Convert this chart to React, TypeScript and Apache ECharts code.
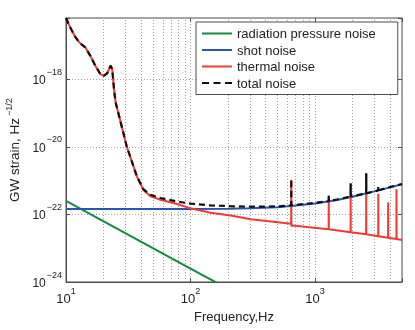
import React, { useEffect, useRef } from "react";
import * as echarts from "echarts";

// Strain values are stored in real units (1/sqrt(Hz)); the log axis plots them in units of Y_UNIT.
const Y_UNIT = 1e-24;
const X_MIN = 10;
const X_MAX = 5000;
const Y_MIN = 1e-24;
const Y_MAX = 6.46e-17;

const seriesNames = ["radiation pressure noise", "shot noise", "thermal noise", "total noise"];

const radiationPressureNoise: [number, number][] = [
  [10, 2.5e-22],
  [100, 2.5e-24],
  [200, 6.3e-25],
];

const shotNoise: [number, number][] = [
  [10, 1.45e-22], [100, 1.45e-22], [200, 1.48e-22], [300, 1.51e-22], [500, 1.62e-22],
  [700, 1.82e-22], [1000, 2.09e-22], [1500, 2.67e-22], [2000, 3.31e-22], [2500, 4.07e-22],
  [3000, 4.79e-22], [4000, 6.31e-22], [5000, 7.76e-22],
];

const thermalNoise: [number, number][] = [
  [10, 6.46e-17], [10.8, 3.43e-17], [11.9, 1.74e-17], [13.0, 1.15e-17], [14.3, 8.7e-18],
  [15.7, 4.9e-18], [17.2, 2.5e-18], [18.9, 1.41e-18], [20.1, 1.26e-18], [21.4, 1.48e-18],
  [22.8, 2.5e-18], [23.5, 2.0e-18], [24.3, 5.1e-19], [25.0, 2.1e-19], [27.2, 6.2e-20],
  [30.8, 1.0e-20], [32.8, 5.1e-21], [37.2, 1.29e-21], [42.0, 5.2e-22], [47.5, 3.5e-22],
  [57.3, 2.7e-22], [78, 2.04e-22], [100, 1.51e-22], [145, 1.12e-22], [210, 9.3e-23],
  [305, 7.2e-23],
  [644, 5.25e-23], [645, 1.05e-21], [647, 4.5e-23], [660, 4.68e-23],
  [1288, 3.63e-23], [1290, 3.09e-22], [1292, 3.63e-23],
  [1932, 2.95e-23], [1935, 7.6e-22], [1938, 2.95e-23],
  [2576, 2.57e-23], [2580, 1.62e-21], [2584, 2.57e-23],
  [3220, 2.24e-23], [3225, 3.98e-22], [3230, 2.24e-23],
  [3865, 2.04e-23], [3870, 2.24e-22], [3875, 2.04e-23],
  [4510, 1.86e-23], [4515, 5.5e-22], [4520, 1.86e-23],
  [5000, 1.74e-23],
];

const totalNoise: [number, number][] = [
  [10, 6.46e-17], [10.8, 3.43e-17], [11.9, 1.74e-17], [13.0, 1.15e-17], [14.3, 8.7e-18],
  [15.7, 4.9e-18], [17.2, 2.5e-18], [18.9, 1.41e-18], [20.1, 1.26e-18], [21.4, 1.48e-18],
  [22.8, 2.5e-18], [23.5, 2.0e-18], [24.3, 5.1e-19], [25.0, 2.1e-19], [27.2, 6.2e-20],
  [30.8, 1.0e-20], [32.8, 5.1e-21], [37.2, 1.29e-21], [42.0, 5.5e-22], [47.5, 3.8e-22],
  [57.3, 3.05e-22], [78, 2.4e-22], [100, 2.09e-22], [145, 1.84e-22], [210, 1.75e-22],
  [305, 1.69e-22], [500, 1.72e-22],
  [644, 1.86e-22], [645, 1.1e-21], [646, 1.86e-22],
  [1000, 2.19e-22],
  [1288, 2.45e-22], [1290, 3.89e-22], [1292, 2.45e-22],
  [1500, 2.75e-22],
  [1932, 3.39e-22], [1935, 8.3e-22], [1938, 3.39e-22],
  [2000, 3.47e-22],
  [2576, 4.17e-22], [2580, 1.66e-21], [2584, 4.17e-22],
  [3000, 4.8e-22],
  [3220, 5.13e-22], [3225, 6.5e-22], [3230, 5.13e-22],
  [4000, 6.46e-22],
  [5000, 7.94e-22],
];

const xMinorGrid = [20, 30, 40, 50, 60, 70, 80, 90, 200, 300, 400, 500, 600, 700, 800, 900, 2000, 3000, 4000];

const FONT = "'Liberation Sans', Arial, sans-serif";
const GREEN = "#14893f";
const BLUE = "#2a56ad";
const RED = "#f23a35";
const BLACK = "#111111";
const FRAME = "#4d4d4d";
const GRID = "#a0a0a0";

const SOLID_ICON = "path://M0,0h30v2h-30z";
const DASH_ICON = "path://M0,0h7v2h-7zM11.5,0h7v2h-7zM23,0h7v2h-7z";

const toPlot = (arr: [number, number][]) => arr.map(([f, h]) => [f, h / Y_UNIT]);

const isPow = (v: number) => {
  const e = Math.log10(v);
  return Math.abs(e - Math.round(e)) < 1e-6;
};

const xLabel = (v: number) => (isPow(v) ? `{b|10}{s|${Math.round(Math.log10(v))}}` : "");
const yLabel = (v: number) => {
  if (!isPow(v)) return "";
  const e = Math.round(Math.log10(v)) + Math.round(Math.log10(Y_UNIT));
  return `{b|10}{s|${e < 0 ? "\u2212" + -e : e}}`;
};

export default function App() {
  const ref = useRef<HTMLDivElement>(null);
  useEffect(() => {
    if (!ref.current) return;
    const chart = echarts.init(ref.current, undefined, { renderer: "svg" });
    const dotted = { color: GRID, width: 1, type: [1, 2] as any };
    const lineSeries = (name: string, data: [number, number][], color: string, extra: any = {}) => ({
      name,
      type: "line",
      data: toPlot(data),
      symbol: "none",
      clip: true,
      lineStyle: { color, width: 2, ...(extra.lineStyle || {}) },
      itemStyle: { color },
      z: extra.z ?? 2,
      ...(extra.markLine ? { markLine: extra.markLine } : {}),
    });
    chart.setOption({
      animation: false,
      textStyle: { fontFamily: FONT },
      grid: {
        left: 66, top: 18, right: 13, bottom: 48,
        containLabel: false,
        outerBoundsMode: "none",
        show: true, borderColor: FRAME, borderWidth: 1, backgroundColor: "transparent",
      },
      legend: {
        orient: "vertical",
        left: 196,
        top: 22,
        data: [
          { name: seriesNames[0], icon: SOLID_ICON },
          { name: seriesNames[1], icon: SOLID_ICON },
          { name: seriesNames[2], icon: SOLID_ICON },
          { name: seriesNames[3], icon: DASH_ICON },
        ],
        itemWidth: 30,
        itemHeight: 2.4,
        itemGap: 3.5,
        padding: [5, 22, 5, 6],
        borderColor: FRAME,
        borderWidth: 1,
        borderRadius: 0,
        backgroundColor: "#ffffff",
        textStyle: { fontSize: 13, color: "#222", fontFamily: FONT },
      },
      xAxis: [
        {
          type: "log", logBase: 10, min: X_MIN, max: X_MAX,
          name: "Frequency,Hz", nameLocation: "middle", nameGap: 26,
          nameTextStyle: { fontSize: 13, color: "#222", fontFamily: FONT },
          axisLine: { show: true, lineStyle: { color: FRAME, width: 1 } },
          axisTick: { show: true, inside: true, length: 4, lineStyle: { color: FRAME } },
          splitLine: { show: true, lineStyle: dotted },
          axisLabel: {
            margin: 8, color: "#222", formatter: xLabel, fontFamily: FONT,
            rich: {
              b: { fontSize: 13, lineHeight: 15, verticalAlign: "bottom", fontFamily: FONT, color: "#222" },
              s: { fontSize: 9, lineHeight: 10, verticalAlign: "bottom", padding: [0, 0, 10, 0], fontFamily: FONT, color: "#222" },
            },
          },
        },
        {
          type: "log", logBase: 10, min: X_MIN, max: X_MAX, position: "top",
          axisLine: { show: false },
          axisTick: { show: true, inside: true, length: 4, lineStyle: { color: FRAME } },
          splitLine: { show: false },
          axisLabel: { show: false },
        },
      ],
      yAxis: [
        {
          type: "log", logBase: 100, min: Y_MIN / Y_UNIT, max: Y_MAX / Y_UNIT,
          name: "GW strain, Hz{s|\u22121/2}", nameLocation: "middle", nameGap: 28,
          nameTextStyle: {
            fontSize: 13.5, color: "#222", fontFamily: FONT,
            rich: {
              s: { fontSize: 9, lineHeight: 10, verticalAlign: "bottom", padding: [0, 0, 8, 2], fontFamily: FONT, color: "#222" },
            },
          },
          axisLine: { show: true, lineStyle: { color: FRAME, width: 1 } },
          axisTick: { show: true, inside: true, length: 4, lineStyle: { color: FRAME } },
          splitLine: { show: true, lineStyle: dotted },
          axisLabel: {
            margin: 4, color: "#222", formatter: yLabel, fontFamily: FONT,
            rich: {
              b: { fontSize: 12, lineHeight: 14, verticalAlign: "bottom", fontFamily: FONT, color: "#222" },
              s: { fontSize: 9, lineHeight: 10, verticalAlign: "bottom", padding: [0, 0, 10, 1], fontFamily: FONT, color: "#222" },
            },
          },
        },
        {
          type: "log", logBase: 100, min: Y_MIN / Y_UNIT, max: Y_MAX / Y_UNIT, position: "right",
          axisLine: { show: false },
          axisTick: { show: true, inside: true, length: 4, lineStyle: { color: FRAME } },
          splitLine: { show: false },
          axisLabel: { show: false },
        },
      ],
      series: [
        lineSeries(seriesNames[0], radiationPressureNoise, GREEN, {
          markLine: {
            silent: true,
            symbol: ["none", "none"],
            label: { show: false },
            lineStyle: { ...dotted },
            emphasis: { disabled: true },
            z: 1,
            data: xMinorGrid.map((f) => ({ xAxis: f })),
          },
        }),
        lineSeries(seriesNames[1], shotNoise, BLUE),
        lineSeries(seriesNames[2], thermalNoise, RED),
        lineSeries(seriesNames[3], totalNoise, BLACK, { lineStyle: { type: [6, 4], width: 2.2 }, z: 3 }),
      ],
    });
    return () => chart.dispose();
  }, []);
  return <div ref={ref} style={{ position: "fixed", left: 0, top: 0, width: 415, height: 330 }} />;
}
